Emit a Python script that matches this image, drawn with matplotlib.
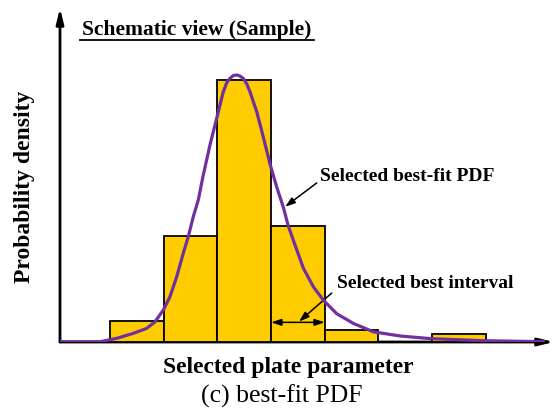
import matplotlib
matplotlib.use('Agg')
import matplotlib.pyplot as plt

plt.rcParams['font.family'] = ['Liberation Serif', 'DejaVu Serif']

# histogram bins (left edge, unit width) and heights
bin_left = [0, 1, 2, 3, 4, 6]
bin_height = [0.08, 0.405, 1.0, 0.443, 0.046, 0.03]

# best-fit pdf
pdf_x = [-0.931, -0.186, 0.125, 0.434, 0.683, 0.838, 0.993, 1.117, 1.242,
         1.365, 1.458, 1.551, 1.644, 1.737, 1.862, 1.987, 2.110, 2.173,
         2.235, 2.296, 2.359, 2.421, 2.482, 2.546, 2.607, 2.732, 2.855,
         2.980, 3.104, 3.227, 3.320, 3.413, 3.600, 3.786, 3.972, 4.222,
         4.531, 4.903, 5.400, 5.959, 6.946, 8.101]
pdf_y = [0.001, 0.001, 0.014, 0.033, 0.052, 0.077, 0.122, 0.173, 0.249,
         0.339, 0.402, 0.478, 0.542, 0.637, 0.752, 0.854, 0.955, 0.989,
         1.006, 1.017, 1.019, 1.015, 1.006, 0.985, 0.955, 0.879, 0.782,
         0.679, 0.592, 0.515, 0.443, 0.389, 0.282, 0.211, 0.160, 0.108,
         0.071, 0.039, 0.023, 0.013, 0.005, 0.001]

fig = plt.figure(figsize=(5.52, 4.11), dpi=100)
ax = fig.add_axes([60 / 552, (411 - 342) / 411, 490 / 552, 332 / 411])
ax.set_xlim(-0.931, 8.194)
ax.set_ylim(0, 1.267)
ax.axis('off')

# bars
ax.bar(bin_left, bin_height, width=1, align='edge', color='#FFCC00',
       edgecolor='black', linewidth=1.3, zorder=2)

# curve
ax.plot(pdf_x, pdf_y, color='#7030A0', lw=2.3, zorder=5,
        solid_joinstyle='round', solid_capstyle='butt')

# axes arrows
head = '-|>,head_length=0.9,head_width=0.22'
ax.annotate('', xy=(1.008, 0), xytext=(0, 0), xycoords='axes fraction',
            arrowprops=dict(arrowstyle=head, lw=2, color='black',
                            shrinkA=0, shrinkB=0), zorder=1)
ax.annotate('', xy=(0, 1.006), xytext=(0, 0), xycoords='axes fraction',
            arrowprops=dict(arrowstyle=head, lw=2, color='black',
                            shrinkA=0, shrinkB=0), zorder=1)

# annotations
small = '-|>,head_length=0.6,head_width=0.2'
ax.annotate('', xy=(3.26, 0.516), xytext=(3.85, 0.607),
            arrowprops=dict(arrowstyle=small, lw=1.1, color='black',
                            shrinkA=0, shrinkB=0))
ax.text(3.92, 0.63, 'Selected best-fit PDF', fontsize=14, fontweight='bold',
        ha='left', va='center')

ax.annotate('', xy=(3.52, 0.078), xytext=(4.13, 0.187),
            arrowprops=dict(arrowstyle=small, lw=1.1, color='black',
                            shrinkA=0, shrinkB=0))
ax.annotate('', xy=(4, 0.075), xytext=(3, 0.075),
            arrowprops=dict(arrowstyle='<|-|>,head_length=0.6,head_width=0.2',
                            lw=1.1, color='black', shrinkA=0, shrinkB=0))
ax.text(4.23, 0.225, 'Selected best interval', fontsize=14, fontweight='bold',
        ha='left', va='center')

# titles and labels
fig.text(197 / 552, 1 - 30 / 411, 'Schematic view (Sample)', fontsize=15.5,
         fontweight='bold', ha='center', va='center')
fig.add_artist(plt.Line2D([80 / 552, 314 / 552], [1 - 40.5 / 411, 1 - 40.5 / 411],
                          color='black', lw=1.3))
fig.text(25 / 552, 1 - 187 / 411, 'Probability density', fontsize=17,
         fontweight='bold', rotation=90, ha='center', va='center')
fig.text(288 / 552, 1 - 367 / 411, 'Selected plate parameter', fontsize=17,
         fontweight='bold', ha='center', va='center')
fig.text(282 / 552, 1 - 396 / 411, '(c) best-fit PDF', fontsize=18.5,
         ha='center', va='center')

fig.savefig('out.png', dpi=100)
